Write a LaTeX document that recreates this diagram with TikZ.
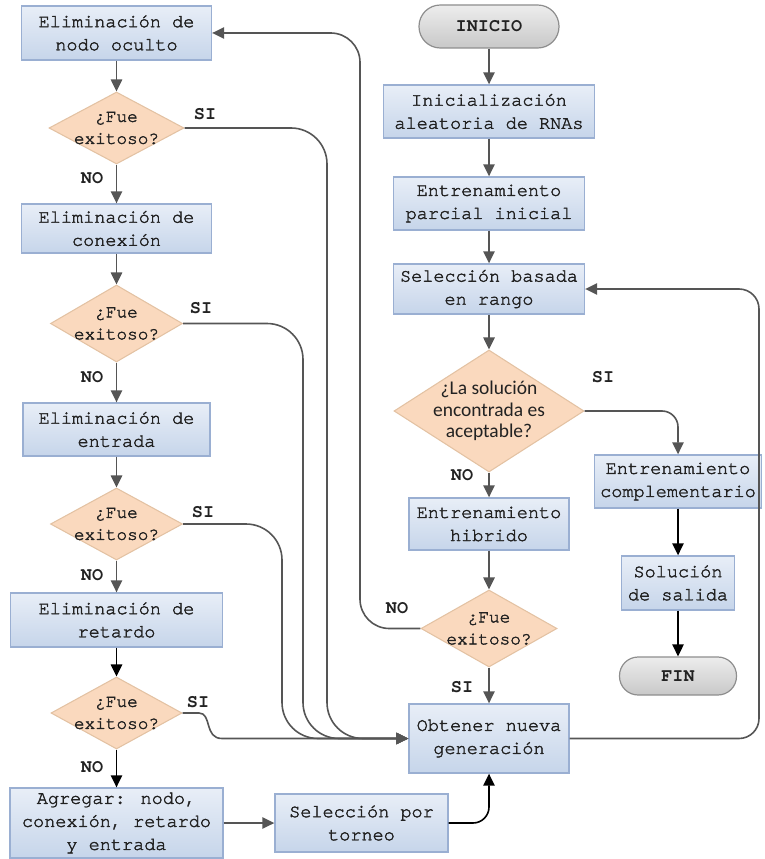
\documentclass[tikz,border=0pt]{standalone}
\usepackage{fontspec}
\usetikzlibrary{arrows.meta,shapes.geometric}
\newfontfamily\monof{texgyrecursor}[Extension=.otf, UprightFont=*-regular, BoldFont=*-bold, UprightFeatures={FakeBold=2}]
\newfontfamily\carlf{Carlito}
\definecolor{boxtop}{HTML}{E8EEF7}
\definecolor{boxbot}{HTML}{C6D5EA}
\definecolor{boxline}{HTML}{9AAFD2}
\definecolor{diafill}{HTML}{FAD9BE}
\definecolor{dialine}{HTML}{E3C2A3}
\definecolor{termtop}{HTML}{EDEDED}
\definecolor{termbot}{HTML}{C8C8C8}
\definecolor{termline}{HTML}{8E8E8E}
\definecolor{lin}{HTML}{555555}
\definecolor{txt}{HTML}{222222}
\begin{document}
\begin{tikzpicture}[x=0.75pt,y=-0.75pt,
  box/.style={rectangle, draw=boxline, line width=1pt, top color=boxtop, bottom color=boxbot,
    inner sep=0pt, align=center, text=txt, font=\monof\fontsize{13.9}{17.3}\selectfont},
  term/.style={rectangle, rounded corners=14pt, draw=termline, line width=0.9pt, top color=termtop,
    bottom color=termbot, inner sep=0pt, align=center, text=txt, font=\monof\bfseries\fontsize{13.9}{17.3}\selectfont},
  dia/.style={diamond, draw=dialine, line width=0.8pt, fill=diafill, inner sep=0pt},
  dtext/.style={align=center, text=txt, font=\monof\fontsize{13.3}{16.5}\selectfont},
  ctext/.style={align=center, text=txt, font=\carlf\fontsize{14.6}{16.2}\selectfont},
  lab/.style={text=txt, font=\monof\bfseries\fontsize{13.9}{16}\selectfont},
  sz/.style 2 args={minimum width=#1, minimum height=#2},
  arr/.style={draw=lin, line width=1.2pt, -{Triangle[length=9pt,width=8.5pt]}},
  arrk/.style={draw=black, line width=1.2pt, -{Triangle[length=9pt,width=8.5pt]}}]
\useasboundingbox (0,0) rectangle (764,859);

% left column
\node[box, sz={142.5pt}{40.5pt}] (B1) at (116.5,33) {Eliminación de\\nodo oculto};
\node[dia, sz={101.25pt}{54pt}, label={[dtext]center:{¿Fue\\exitoso?}}] (D1) at (116.5,128) {};
\node[box, sz={142.5pt}{36.75pt}] (B2) at (116.5,228.5) {Eliminación de\\conexión};
\node[dia, sz={99pt}{57.75pt}, label={[dtext]center:{¿Fue\\exitoso?}}] (D2) at (116.5,323.5) {};
\node[box, sz={140.25pt}{39.75pt}] (B3) at (116.5,429.5) {Eliminación de\\entrada};
\node[dia, sz={99pt}{54pt}, label={[dtext]center:{¿Fue\\exitoso?}}] (D3) at (116.5,524) {};
\node[box, sz={159pt}{40.5pt}] (B4) at (116.5,620) {Eliminación de\\retardo};
\node[dia, sz={98.25pt}{54pt}, label={[dtext]center:{¿Fue\\exitoso?}}] (D4) at (116.5,713) {};
\node[box, sz={159.75pt}{52.5pt}] (B5) at (116.5,823) {Agregar: nodo,\\conexión, retardo\\y entrada};
\node[box, sz={129.75pt}{43.5pt}] (SEL) at (361.5,823) {Selección por\\torneo};

% right column
\node[term, rounded corners=16pt, sz={105pt}{32.25pt}] (INI) at (489,26.5) {INICIO};
\node[box, sz={158.25pt}{39.75pt}] (R1) at (489,111.5) {Inicialización\\aleatoria de RNAs};
\node[box, sz={143.25pt}{39.75pt}] (R2) at (489,203.5) {Entrenamiento\\parcial inicial};
\node[box, sz={143.25pt}{37.5pt}] (R3) at (489,289) {Selección basada\\en rango};
\node[dia, sz={142.5pt}{91.5pt}, label={[ctext]center:{¿La solución\\encontrada es\\aceptable?}}] (D6) at (489,411) {};
\node[box, sz={120pt}{39pt}] (R5) at (489,524) {Entrenamiento\\hibrido};
\node[dia, sz={102pt}{57.75pt}, label={[dtext]center:{¿Fue\\exitoso?}}] (D5) at (489,628.5) {};
\node[box, sz={120pt}{51.75pt}] (OBT) at (489,738.5) {Obtener nueva\\generación};
\node[box, sz={125.25pt}{39.75pt}] (R4) at (678,481.5) {Entrenamiento\\complementario};
\node[box, sz={84.75pt}{40.5pt}] (R6) at (678,583) {Solución\\de salida};
\node[term, sz={87.75pt}{28.5pt}] (FIN) at (678,676) {FIN};

% labels
\node[lab] (l1s) at (205,114) {SI};
\node[lab] (l1n) at (92,178) {NO};
\node[lab] (l2s) at (201,308) {SI};
\node[lab] (l2n) at (92,377) {NO};
\node[lab] (l3s) at (203,512) {SI};
\node[lab] (l3n) at (92,575) {NO};
\node[lab] (l4s) at (198,702) {SI};
\node[lab] (l4n) at (92,767) {NO};
\node[lab] (l6s) at (603,377) {SI};
\node[lab] (l6n) at (462,475) {NO};
\node[lab] (l5n) at (397,608) {NO};
\node[lab] (l5s) at (462,687) {SI};

% helper coordinates
\coordinate (x1) at (327,0);
\coordinate (x2) at (303,0);
\coordinate (x3) at (282,0);
\coordinate (xL) at (360,0);
\coordinate (xR) at (759,0);

% straight arrows
\draw[arr] (B1) -- (D1);
\draw[arr] (D1) -- (B2);
\draw[arr] (B2) -- (D2);
\draw[arr] (D2) -- (B3);
\draw[arr] (B3) -- (D3);
\draw[arr] (D3) -- (B4);
\draw[arrk] (B4) -- (D4);
\draw[arrk] (D4) -- (B5);
\draw[arr] (B5.east) -- (SEL.west);
\draw[arr] (INI) -- (R1);
\draw[arr] (R1) -- (R2);
\draw[arr] (R2) -- (R3);
\draw[arr] (R3) -- (D6);
\draw[arr] (D6) -- (R5);
\draw[arr] (R5) -- (D5);
\draw[arr] (D5) -- (OBT);
\draw[arrk] (R4) -- (R6);
\draw[arrk] (R6) -- (FIN);

% curved connectors
\draw[arr, rounded corners=27pt] (D1.east) -| (x1 |- OBT.west) -- (OBT.west);
\draw[arr, rounded corners=27pt] (D2.east) -| (x2 |- OBT.west) -- (OBT.west);
\draw[arr, rounded corners=27pt] (D3.east) -| (x3 |- OBT.west) -- (OBT.west);
\draw[arr] (D4.east) -- (199,713) .. controls (212,713) and (204,738.5) .. (222,738.5) -- (OBT.west);
\draw[arr, rounded corners=22pt] (D5.west) -| (xL |- B1.east) -- (B1.east);
\draw[arr, rounded corners=15pt] (OBT.east) -| (xR |- R3.east) -- (R3.east);
\draw[arr, rounded corners=12pt] (D6.east) -| (R4.north);
\draw[arrk, rounded corners=12pt] (SEL.east) -| (OBT.south);
\end{tikzpicture}
\end{document}
